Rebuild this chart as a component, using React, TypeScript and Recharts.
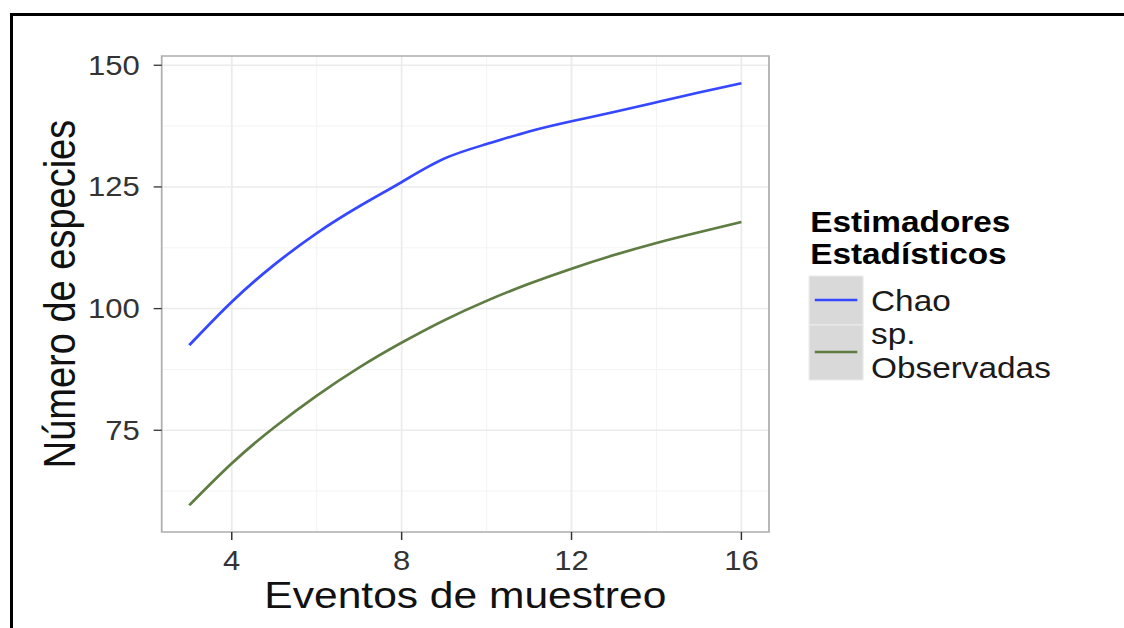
import React from 'react';
import {
  LineChart,
  Line,
  XAxis,
  YAxis,
  CartesianGrid,
  ReferenceArea,
} from 'recharts';

// ── Data ──────────────────────────────────────────────────────────────────────

const eventos = [3, 4, 5, 6, 7, 8, 9, 10, 11, 12, 13, 14, 15, 16];
const chao = [92.5, 101.4, 109.0, 115.5, 121.0, 126.0, 130.8, 133.8, 136.4, 138.5, 140.4, 142.4, 144.4, 146.3];
const observadas = [59.6, 68.2, 75.6, 82.1, 87.9, 93.0, 97.6, 101.6, 105.1, 108.2, 111.0, 113.5, 115.7, 117.8];

const xTicks = [4, 8, 12, 16];
const xMinor = [6, 10, 14];
const yTicks = [75, 100, 125, 150];
const yMinor = [62.5, 87.5, 112.5, 137.5];

const series = [
  { key: 'chao', label: ['Chao'], color: '#3548ff' },
  { key: 'obs', label: ['sp.', 'Observadas'], color: '#5f7d42' },
];

const rows = eventos.map((x, i) => ({ x, chao: chao[i], obs: observadas[i] }));

// ── Layout ────────────────────────────────────────────────────────────────────

// the whole figure is drawn a bit wider than tall (stretched plot export)
const STRETCH = 1.15;
const PAGE_W = 1124;
const PAGE_H = 628;
const W = PAGE_W / STRETCH;

const X_DOMAIN: [number, number] = [2.35, 16.65];
const Y_DOMAIN: [number, number] = [54.1, 151.9];

const PANEL = { left: 140.6, right: 668.7, top: 56, bottom: 532 };
const Y_AXIS_W = 100;
const X_AXIS_H = 70;

const FONT = "'Liberation Sans', Arial, Helvetica, sans-serif";

function XTitle(props: any) {
  const vb = props.viewBox;
  return (
    <text x={vb.x + vb.width / 2} y={vb.y + 76} textAnchor="middle"
      fontFamily={FONT} fontSize={37} fill="#111">
      Eventos de muestreo
    </text>
  );
}

function YTitle(props: any) {
  const vb = props.viewBox;
  const cx = vb.x + 24.4;
  const cy = vb.y + vb.height / 2;
  return (
    <text x={cx} y={cy} textAnchor="middle" transform={`rotate(-90, ${cx}, ${cy})`}
      fontFamily={FONT} fontSize={38} fill="#111">
      Número de especies
    </text>
  );
}

function LegendBox() {
  const left = 703.5;
  const keyW = 47;
  const boxes = [
    { top: 276, h: 49, lineY: 300, baselines: [311] },
    { top: 325, h: 55, lineY: 352, baselines: [344, 378] },
  ];
  return (
    <svg width={W} height={PAGE_H} style={{ position: 'absolute', left: 0, top: 0, pointerEvents: 'none' }}>
      <text x={left + 1} y={231.7} fontFamily={FONT} fontWeight="bold" fontSize={29} fill="#000">Estimadores</text>
      <text x={left + 1} y={264} fontFamily={FONT} fontWeight="bold" fontSize={29} fill="#000">Estadísticos</text>
      {series.map((s, i) => {
        const b = boxes[i];
        return (
          <g key={s.key}>
            <rect x={left} y={b.top} width={keyW} height={b.h} fill="#d9d9d9" stroke="#ebebeb" strokeWidth={1} />
            <line x1={left + 5} x2={left + keyW - 5} y1={b.lineY} y2={b.lineY} stroke={s.color} strokeWidth={2.6} />
            {s.label.map((t, j) => (
              <text key={t} x={757.4} y={b.baselines[j]} fontFamily={FONT} fontSize={29} fill="#1a1a1a">{t}</text>
            ))}
          </g>
        );
      })}
    </svg>
  );
}

export default function App() {
  return (
    <div style={{ position: 'absolute', left: 0, top: 0, width: PAGE_W, height: PAGE_H, background: '#fff', overflow: 'hidden' }}>
      {/* frame lines */}
      <div style={{ position: 'absolute', left: 10, top: 13, width: PAGE_W - 10, height: 3, background: '#000' }} />
      <div style={{ position: 'absolute', left: 10, top: 13, width: 3, height: PAGE_H - 13, background: '#000' }} />

      <div style={{ position: 'absolute', left: 0, top: 0, width: W, height: PAGE_H, transform: `scaleX(${STRETCH})`, transformOrigin: '0 0' }}>
        <LineChart
          width={W}
          height={PAGE_H}
          data={rows}
          margin={{
            top: PANEL.top,
            right: W - PANEL.right,
            bottom: PAGE_H - PANEL.bottom - X_AXIS_H,
            left: PANEL.left - Y_AXIS_W,
          }}
        >
          <CartesianGrid horizontalValues={yMinor} verticalValues={xMinor} stroke="#f4f4f4" strokeWidth={1} />
          <CartesianGrid horizontalValues={yTicks} verticalValues={xTicks} stroke="#ebebeb" strokeWidth={1.5} />
          <XAxis
            dataKey="x" type="number" domain={X_DOMAIN} ticks={xTicks} allowDataOverflow
            height={X_AXIS_H} axisLine={false}
            tickLine={{ stroke: '#333', strokeWidth: 1.3 }} tickSize={8} tickMargin={10.5}
            tick={{ fontFamily: FONT, fontSize: 27, fill: '#333' }}
            label={{ content: XTitle }}
          />
          <YAxis
            type="number" domain={Y_DOMAIN} ticks={yTicks} allowDataOverflow
            width={Y_AXIS_W} axisLine={false}
            tickLine={{ stroke: '#333', strokeWidth: 1.3 }} tickSize={7} tickMargin={12}
            tick={{ fontFamily: FONT, fontSize: 27, fill: '#333' }}
            label={{ content: YTitle }}
          />
          {series.map(s => (
            <Line key={s.key} type="natural" dataKey={s.key} stroke={s.color} strokeWidth={2.6}
              dot={false} activeDot={false} isAnimationActive={false} />
          ))}
          <ReferenceArea x1={X_DOMAIN[0]} x2={X_DOMAIN[1]} y1={Y_DOMAIN[0]} y2={Y_DOMAIN[1]}
            fill="none" stroke="#adadad" strokeWidth={1.5} ifOverflow="visible" />
        </LineChart>
        <LegendBox />
      </div>
    </div>
  );
}
